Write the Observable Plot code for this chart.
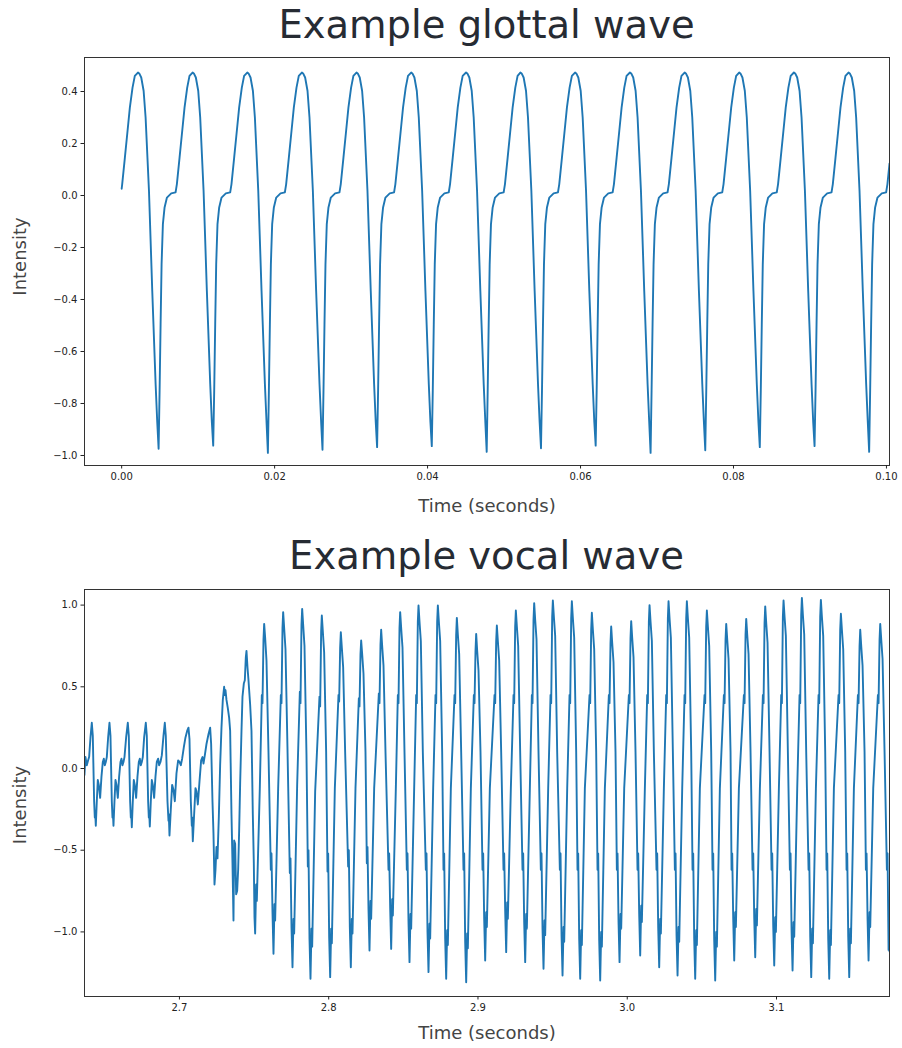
<!DOCTYPE html>
<html><head><meta charset="utf-8">
<script src="https://cdn.jsdelivr.net/npm/d3@7"></script>
<script src="https://cdn.jsdelivr.net/npm/@observablehq/plot@0.6"></script>
<style>
html,body{margin:0;padding:0;background:#fff;}
#fig{position:relative;width:902px;height:1048px;font-family:"DejaVu Sans",sans-serif;overflow:hidden;}
.title{position:absolute;left:84px;width:805px;text-align:center;font-size:38.5px;line-height:46px;color:#262b33;white-space:nowrap;}
.panel{position:absolute;left:0;}
</style></head>
<body>
<div id="fig">
  <div class="panel" id="p1" style="top:0px"></div>
  <div class="panel" id="p2" style="top:531px"></div>
  <div class="title" style="top:2px">Example glottal wave</div>
  <div class="title" style="top:533px">Example vocal wave</div>
</div>
<script>
// ---------- Data (time in milliseconds, intensity) ----------
const glottalTitle = "Example glottal wave";
const vocalTitle = "Example vocal wave";
const xLabel = "Time (seconds)";
const yLabel = "Intensity";

const glottalTicksX = [0, 0.02, 0.04, 0.06, 0.08, 0.10];
const glottalTicksY = [-1.0, -0.8, -0.6, -0.4, -0.2, 0.0, 0.2, 0.4];
const vocalTicksX = [2.7, 2.8, 2.9, 3.0, 3.1];
const vocalTicksY = [-1.0, -0.5, 0.0, 0.5, 1.0];

const glottalSamples = [
[0.00,0.026],[0.07,0.044],[0.42,0.146],[0.77,0.249],[1.07,0.338],[1.42,0.415],[1.72,0.460],
[2.13,0.473],[2.33,0.468],[2.56,0.454],[2.87,0.403],[3.13,0.300],[3.57,0.018],[4.00,-0.367],[4.44,-0.726],[4.65,-0.870],[4.83,-0.974],[4.96,-0.751],[5.09,-0.495],[5.22,-0.264],[5.39,-0.110],[5.61,-0.046],[5.92,-0.008],[6.48,0.008],[7.05,0.012],[7.22,0.044],[7.57,0.146],[7.92,0.249],[8.22,0.338],[8.57,0.415],[8.87,0.460],
[9.27,0.473],[9.47,0.468],[9.70,0.454],[10.01,0.403],[10.27,0.300],[10.71,0.018],[11.14,-0.367],[11.58,-0.726],[11.79,-0.870],[11.97,-0.962],[12.10,-0.751],[12.23,-0.495],[12.36,-0.264],[12.53,-0.110],[12.75,-0.046],[13.06,-0.008],[13.62,0.008],[14.19,0.012],[14.36,0.044],[14.71,0.146],[15.06,0.249],[15.36,0.338],[15.71,0.415],[16.01,0.460],
[16.42,0.473],[16.62,0.468],[16.85,0.454],[17.16,0.403],[17.42,0.300],[17.86,0.018],[18.29,-0.367],[18.73,-0.726],[18.94,-0.870],[19.12,-0.990],[19.25,-0.751],[19.38,-0.495],[19.51,-0.264],[19.68,-0.110],[19.90,-0.046],[20.21,-0.008],[20.77,0.008],[21.34,0.012],[21.51,0.044],[21.86,0.146],[22.21,0.249],[22.51,0.338],[22.86,0.415],[23.16,0.460],
[23.56,0.473],[23.76,0.468],[23.99,0.454],[24.30,0.403],[24.56,0.300],[25.00,0.018],[25.43,-0.367],[25.87,-0.726],[26.08,-0.870],[26.26,-0.978],[26.39,-0.751],[26.52,-0.495],[26.65,-0.264],[26.82,-0.110],[27.04,-0.046],[27.35,-0.008],[27.91,0.008],[28.48,0.012],[28.65,0.044],[29.00,0.146],[29.35,0.249],[29.65,0.338],[30.00,0.415],[30.30,0.460],
[30.70,0.473],[30.90,0.468],[31.13,0.454],[31.44,0.403],[31.70,0.300],[32.14,0.018],[32.57,-0.367],[33.01,-0.726],[33.22,-0.870],[33.40,-0.968],[33.53,-0.751],[33.66,-0.495],[33.79,-0.264],[33.96,-0.110],[34.18,-0.046],[34.49,-0.008],[35.05,0.008],[35.62,0.012],[35.79,0.044],[36.14,0.146],[36.49,0.249],[36.79,0.338],[37.14,0.415],[37.44,0.460],
[37.85,0.473],[38.05,0.468],[38.28,0.454],[38.59,0.403],[38.85,0.300],[39.29,0.018],[39.72,-0.367],[40.16,-0.726],[40.37,-0.870],[40.55,-0.964],[40.68,-0.751],[40.81,-0.495],[40.94,-0.264],[41.11,-0.110],[41.33,-0.046],[41.64,-0.008],[42.20,0.008],[42.77,0.012],[42.94,0.044],[43.29,0.146],[43.64,0.249],[43.94,0.338],[44.29,0.415],[44.59,0.460],
[45.03,0.473],[45.23,0.468],[45.46,0.454],[45.77,0.403],[46.03,0.300],[46.47,0.018],[46.90,-0.367],[47.34,-0.726],[47.55,-0.870],[47.73,-0.986],[47.86,-0.751],[47.99,-0.495],[48.12,-0.264],[48.29,-0.110],[48.51,-0.046],[48.82,-0.008],[49.38,0.008],[49.95,0.012],[50.12,0.044],[50.47,0.146],[50.82,0.249],[51.12,0.338],[51.47,0.415],[51.77,0.460],
[52.13,0.473],[52.33,0.468],[52.56,0.454],[52.87,0.403],[53.13,0.300],[53.57,0.018],[54.00,-0.367],[54.44,-0.726],[54.65,-0.870],[54.83,-0.972],[54.96,-0.751],[55.09,-0.495],[55.22,-0.264],[55.39,-0.110],[55.61,-0.046],[55.92,-0.008],[56.48,0.008],[57.05,0.012],[57.22,0.044],[57.57,0.146],[57.92,0.249],[58.22,0.338],[58.57,0.415],[58.87,0.460],
[59.28,0.473],[59.48,0.468],[59.71,0.454],[60.02,0.403],[60.28,0.300],[60.72,0.018],[61.15,-0.367],[61.59,-0.726],[61.80,-0.870],[61.98,-0.962],[62.11,-0.751],[62.24,-0.495],[62.37,-0.264],[62.54,-0.110],[62.76,-0.046],[63.07,-0.008],[63.63,0.008],[64.20,0.012],[64.37,0.044],[64.72,0.146],[65.07,0.249],[65.37,0.338],[65.72,0.415],[66.02,0.460],
[66.46,0.473],[66.66,0.468],[66.89,0.454],[67.20,0.403],[67.46,0.300],[67.90,0.018],[68.33,-0.367],[68.77,-0.726],[68.98,-0.870],[69.16,-0.990],[69.29,-0.751],[69.42,-0.495],[69.55,-0.264],[69.72,-0.110],[69.94,-0.046],[70.25,-0.008],[70.81,0.008],[71.38,0.012],[71.55,0.044],[71.90,0.146],[72.25,0.249],[72.55,0.338],[72.90,0.415],[73.20,0.460],
[73.61,0.473],[73.81,0.468],[74.04,0.454],[74.35,0.403],[74.61,0.300],[75.05,0.018],[75.48,-0.367],[75.92,-0.726],[76.13,-0.870],[76.31,-0.980],[76.44,-0.751],[76.57,-0.495],[76.70,-0.264],[76.87,-0.110],[77.09,-0.046],[77.40,-0.008],[77.96,0.008],[78.53,0.012],[78.70,0.044],[79.05,0.146],[79.40,0.249],[79.70,0.338],[80.05,0.415],[80.35,0.460],
[80.74,0.473],[80.94,0.468],[81.17,0.454],[81.48,0.403],[81.74,0.300],[82.18,0.018],[82.61,-0.367],[83.05,-0.726],[83.26,-0.870],[83.44,-0.968],[83.57,-0.751],[83.70,-0.495],[83.83,-0.264],[84.00,-0.110],[84.22,-0.046],[84.53,-0.008],[85.09,0.008],[85.66,0.012],[85.83,0.044],[86.18,0.146],[86.53,0.249],[86.83,0.338],[87.18,0.415],[87.48,0.460],
[87.90,0.473],[88.10,0.468],[88.33,0.454],[88.64,0.403],[88.90,0.300],[89.34,0.018],[89.77,-0.367],[90.21,-0.726],[90.42,-0.870],[90.60,-0.964],[90.73,-0.751],[90.86,-0.495],[90.99,-0.264],[91.16,-0.110],[91.38,-0.046],[91.69,-0.008],[92.25,0.008],[92.82,0.012],[92.99,0.044],[93.34,0.146],[93.69,0.249],[93.99,0.338],[94.34,0.415],[94.64,0.460],
[95.04,0.473],[95.24,0.468],[95.47,0.454],[95.78,0.403],[96.04,0.300],[96.48,0.018],[96.91,-0.367],[97.35,-0.726],[97.56,-0.870],[97.74,-0.986],[97.87,-0.751],[98.00,-0.495],[98.13,-0.264],[98.30,-0.110],[98.52,-0.046],[98.83,-0.008],[99.39,0.008],[99.96,0.012],[100.13,0.044],[100.40,0.123]
];

const vocalSamples = [
[2636.37,-0.04],[2637.05,0.07],[2637.94,0.02],[2638.83,0.05],[2639.50,0.07],[2640.40,0.19],
[2641.29,0.28],[2641.96,0.20],[2642.85,-0.20],[2643.30,-0.30],[2643.52,-0.26],[2643.97,-0.35],[2644.64,-0.20],[2645.31,-0.07],[2645.98,-0.10],[2646.87,-0.18],[2647.77,-0.05],[2648.66,0.04],[2649.33,0.06],[2650.00,0.02],[2650.67,0.04],[2651.34,0.07],[2652.23,0.19],
[2653.13,0.28],[2653.80,0.20],[2654.69,-0.20],[2655.14,-0.30],[2655.36,-0.26],[2655.81,-0.35],[2656.48,-0.20],[2657.15,-0.07],[2657.82,-0.10],[2658.71,-0.18],[2659.60,-0.05],[2660.50,0.04],[2661.17,0.06],[2661.84,0.02],[2662.51,0.04],[2663.18,0.07],[2664.29,0.19],
[2665.41,0.28],[2666.08,0.20],[2666.97,-0.20],[2667.42,-0.30],[2667.64,-0.26],[2668.09,-0.36],[2668.76,-0.20],[2669.43,-0.07],[2670.10,-0.10],[2670.99,-0.18],[2671.89,-0.05],[2672.78,0.04],[2673.45,0.06],[2674.12,0.02],[2674.79,0.04],[2675.46,0.07],[2676.35,0.19],
[2677.47,0.28],[2678.14,0.20],[2679.03,-0.20],[2679.48,-0.30],[2679.70,-0.26],[2680.15,-0.355],[2680.82,-0.20],[2681.49,-0.07],[2682.16,-0.10],[2683.05,-0.18],[2683.95,-0.05],[2684.84,0.04],[2685.73,0.06],[2686.40,0.02],[2687.30,0.04],[2688.19,0.08],[2689.31,0.20],
[2690.20,0.28],[2690.87,0.20],[2691.99,-0.20],[2692.66,-0.32],[2692.88,-0.28],[2693.33,-0.41],[2694.22,-0.25],[2695.11,-0.10],[2696.01,-0.13],[2696.90,-0.20],[2698.02,-0.03],[2699.13,0.05],[2700.03,0.04],[2700.92,0.02],[2701.81,0.06],[2702.93,0.13],[2704.05,0.19],[2705.16,0.23],
[2706.06,0.25],[2706.73,0.18],[2707.62,-0.20],[2708.29,-0.35],[2708.51,-0.30],[2708.96,-0.445],[2709.85,-0.28],[2710.75,-0.12],[2711.42,-0.14],[2712.31,-0.22],[2713.43,-0.08],[2714.54,0.05],[2715.44,0.07],[2716.11,0.03],[2717.00,0.08],[2718.12,0.15],[2719.46,0.21],
[2720.57,0.25],[2721.24,0.15],[2722.14,-0.20],[2722.81,-0.40],[2723.48,-0.71],[2724.15,-0.62],[2724.82,-0.48],[2725.49,-0.55],[2726.38,-0.30],[2727.27,0.02],[2728.17,0.25],[2729.06,0.42],
[2729.95,0.50],[2730.40,0.45],[2730.85,0.48],[2731.52,0.42],[2732.41,0.37],[2733.31,0.31],[2733.98,0.23],[2734.87,-0.28],[2735.54,-0.58],[2736.21,-0.93],[2736.66,-0.44],[2737.33,-0.46],[2738.00,-0.77],[2738.67,-0.75],[2739.34,-0.62],[2740.01,-0.38],[2740.68,-0.09],[2741.57,0.23],[2742.24,0.44],[2743.13,0.52],[2743.80,0.54],
[2744.47,0.68],[2744.92,0.72],[2745.59,0.62],[2746.26,0.54],[2747.38,0.39],[2748.27,0.23],[2749.16,-0.28],[2749.83,-0.58],[2750.28,-0.91],[2750.72,-1.01],[2751.39,-0.71],[2751.84,-0.81],[2753.85,-0.12],[2755.19,0.45],[2755.64,0.40],[2756.31,0.79],
[2756.76,0.885],[2757.43,0.80],[2758.32,0.66],[2759.66,0.10],[2761.22,-0.62],[2761.67,-0.52],[2762.34,-0.88],[2763.01,-1.134],[2763.68,-0.83],[2764.13,-0.93],[2766.14,-0.12],[2767.93,0.45],[2768.37,0.40],[2769.04,0.86],
[2769.49,0.957],[2770.16,0.86],[2771.05,0.73],[2772.39,0.12],[2773.95,-0.64],[2774.40,-0.55],[2775.07,-0.97],[2775.74,-1.216],[2776.41,-0.92],[2776.86,-1.01],[2778.87,-0.10],[2780.66,0.47],[2781.10,0.40],[2781.77,0.88],
[2782.22,0.977],[2782.89,0.88],[2783.78,0.75],[2785.12,0.08],[2786.01,-0.60],[2786.46,-0.50],[2787.13,-1.04],[2787.80,-1.287],[2788.47,-0.98],[2788.92,-1.09],[2790.93,-0.14],[2793.83,0.44],[2794.27,0.38],[2794.94,0.84],
[2795.39,0.936],[2796.06,0.84],[2796.95,0.71],[2798.29,0.10],[2799.19,-0.63],[2799.64,-0.52],[2800.31,-1.03],[2800.98,-1.277],[2801.65,-0.98],[2802.10,-1.07],[2804.11,-0.12],[2806.56,0.45],[2807.00,0.41],[2807.67,0.74],
[2808.12,0.834],[2808.79,0.74],[2809.68,0.62],[2811.02,0.10],[2813.03,-0.60],[2813.48,-0.50],[2814.15,-0.97],[2814.82,-1.216],[2815.49,-0.92],[2815.94,-1.01],[2817.95,-0.12],[2820.19,0.43],[2820.63,0.38],[2821.30,0.70],
[2821.75,0.783],[2822.42,0.70],[2823.31,0.58],[2824.65,0.10],[2825.54,-0.58],[2825.99,-0.48],[2826.66,-0.86],[2827.33,-1.114],[2828.00,-0.81],[2828.45,-0.92],[2830.46,-0.12],[2833.59,0.46],[2834.03,0.40],[2834.70,0.76],
[2835.15,0.849],[2835.82,0.75],[2836.71,0.63],[2838.05,0.10],[2840.06,-0.62],[2840.51,-0.52],[2841.18,-0.85],[2841.85,-1.104],[2842.52,-0.80],[2842.97,-0.90],[2844.98,-0.12],[2846.32,0.45],[2846.76,0.40],[2847.43,0.86],
[2847.88,0.957],[2848.55,0.86],[2849.44,0.74],[2850.78,0.10],[2852.34,-0.62],[2852.79,-0.52],[2853.46,-0.94],[2854.13,-1.185],[2854.80,-0.89],[2855.25,-0.98],[2857.26,-0.12],[2858.60,0.45],[2859.04,0.40],[2859.71,0.90],
[2860.16,0.998],[2860.83,0.90],[2861.72,0.78],[2863.06,0.10],[2865.07,-0.62],[2865.52,-0.52],[2866.19,-1.00],[2866.86,-1.246],[2867.53,-0.95],[2867.98,-1.04],[2869.99,-0.12],[2871.56,0.45],[2872.00,0.40],[2872.67,0.90],
[2873.12,0.998],[2873.79,0.90],[2874.68,0.78],[2876.02,0.10],[2876.91,-0.62],[2877.36,-0.52],[2878.03,-1.04],[2878.70,-1.287],[2879.37,-0.99],[2879.82,-1.08],[2881.83,-0.12],[2884.29,0.45],[2884.73,0.40],[2885.40,0.82],
[2885.85,0.922],[2886.52,0.82],[2887.41,0.70],[2888.75,0.10],[2890.31,-0.62],[2890.76,-0.52],[2891.43,-1.06],[2892.10,-1.308],[2892.77,-1.01],[2893.22,-1.10],[2895.23,-0.12],[2897.24,0.45],[2897.68,0.40],[2898.35,0.72],
[2898.80,0.824],[2899.47,0.72],[2900.36,0.60],[2901.70,0.10],[2903.04,-0.62],[2903.49,-0.52],[2904.16,-0.92],[2904.83,-1.175],[2905.50,-0.88],[2905.95,-0.97],[2907.96,-0.12],[2911.09,0.45],[2911.53,0.40],[2912.20,0.78],
[2912.65,0.875],[2913.32,0.78],[2914.21,0.66],[2915.55,0.10],[2917.11,-0.62],[2917.56,-0.52],[2918.23,-0.87],[2918.90,-1.124],[2919.57,-0.82],[2920.02,-0.92],[2922.03,-0.12],[2923.82,0.45],[2924.26,0.40],[2924.93,0.87],
[2925.38,0.967],[2926.05,0.87],[2926.94,0.75],[2928.28,0.10],[2929.84,-0.62],[2930.29,-0.52],[2930.96,-0.94],[2931.63,-1.185],[2932.30,-0.89],[2932.75,-0.98],[2934.76,-0.12],[2936.10,0.45],[2936.54,0.40],[2937.21,0.91],
[2937.66,1.012],[2938.33,0.91],[2939.22,0.79],[2940.56,0.10],[2942.12,-0.62],[2942.57,-0.52],[2943.24,-0.98],[2943.91,-1.226],[2944.58,-0.93],[2945.03,-1.02],[2947.04,-0.12],[2948.61,0.45],[2949.05,0.40],[2949.72,0.93],
[2950.17,1.028],[2950.84,0.93],[2951.73,0.81],[2953.07,0.10],[2954.86,-0.62],[2955.31,-0.52],[2955.98,-1.02],[2956.65,-1.267],[2957.32,-0.97],[2957.77,-1.06],[2959.78,-0.12],[2961.34,0.45],[2961.78,0.40],[2962.45,0.92],
[2962.90,1.024],[2963.57,0.92],[2964.46,0.80],[2965.80,0.10],[2966.69,-0.62],[2967.14,-0.52],[2967.81,-1.04],[2968.48,-1.287],[2969.15,-0.99],[2969.60,-1.08],[2971.61,-0.12],[2974.74,0.45],[2975.18,0.40],[2975.85,0.85],
[2976.30,0.953],[2976.97,0.85],[2977.86,0.73],[2979.20,0.10],[2980.09,-0.62],[2980.54,-0.52],[2981.21,-1.05],[2981.88,-1.297],[2982.55,-1.00],[2983.00,-1.09],[2985.01,-0.12],[2987.69,0.45],[2988.13,0.40],[2988.80,0.77],
[2989.25,0.869],[2989.92,0.77],[2990.81,0.65],[2992.15,0.10],[2993.05,-0.62],[2993.50,-0.52],[2994.17,-0.94],[2994.84,-1.185],[2995.51,-0.89],[2995.96,-0.98],[2997.97,-0.12],[3001.09,0.45],[3001.53,0.40],[3002.20,0.80],
[3002.65,0.902],[3003.32,0.80],[3004.21,0.68],[3005.55,0.10],[3006.89,-0.62],[3007.34,-0.52],[3008.01,-0.89],[3008.68,-1.144],[3009.35,-0.84],[3009.80,-0.94],[3011.81,-0.12],[3013.38,0.45],[3013.82,0.40],[3014.49,0.90],
[3014.94,1.000],[3015.61,0.90],[3016.50,0.78],[3017.84,0.10],[3019.62,-0.62],[3020.07,-0.52],[3020.74,-0.97],[3021.41,-1.216],[3022.08,-0.92],[3022.53,-1.01],[3024.54,-0.12],[3026.11,0.45],[3026.55,0.40],[3027.22,0.92],
[3027.67,1.024],[3028.34,0.92],[3029.23,0.80],[3030.57,0.10],[3031.91,-0.62],[3032.36,-0.52],[3033.03,-1.02],[3033.70,-1.267],[3034.37,-0.97],[3034.82,-1.06],[3036.83,-0.12],[3038.39,0.45],[3038.83,0.40],[3039.50,0.92],
[3039.95,1.024],[3040.62,0.92],[3041.51,0.80],[3042.85,0.10],[3043.74,-0.62],[3044.19,-0.52],[3044.86,-1.04],[3045.53,-1.287],[3046.20,-0.99],[3046.65,-1.08],[3048.66,-0.12],[3051.79,0.45],[3052.23,0.40],[3052.90,0.87],
[3053.35,0.967],[3054.02,0.87],[3054.91,0.75],[3056.25,0.10],[3057.14,-0.62],[3057.59,-0.52],[3058.26,-1.05],[3058.93,-1.297],[3059.60,-1.00],[3060.05,-1.09],[3062.06,-0.12],[3064.75,0.45],[3065.19,0.40],[3065.86,0.79],
[3066.31,0.885],[3066.98,0.79],[3067.87,0.67],[3069.21,0.10],[3069.88,-0.62],[3070.33,-0.52],[3071.00,-0.92],[3071.67,-1.175],[3072.34,-0.88],[3072.79,-0.97],[3074.80,-0.12],[3078.15,0.45],[3078.59,0.40],[3079.26,0.82],
[3079.71,0.916],[3080.38,0.82],[3081.27,0.70],[3082.61,0.10],[3083.95,-0.62],[3084.40,-0.52],[3085.07,-0.91],[3085.74,-1.155],[3086.41,-0.86],[3086.86,-0.96],[3088.87,-0.12],[3090.88,0.45],[3091.32,0.40],[3091.99,0.89],
[3092.44,0.992],[3093.11,0.89],[3094.00,0.77],[3095.34,0.10],[3096.68,-0.62],[3097.13,-0.52],[3097.80,-0.96],[3098.47,-1.206],[3099.14,-0.91],[3099.59,-1.00],[3101.60,-0.12],[3103.16,0.45],[3103.60,0.40],[3104.27,0.93],
[3104.72,1.028],[3105.39,0.93],[3106.28,0.81],[3107.62,0.10],[3108.96,-0.62],[3109.41,-0.52],[3110.08,-0.99],[3110.75,-1.236],[3111.42,-0.94],[3111.87,-1.03],[3113.88,-0.12],[3115.44,0.45],[3115.88,0.40],[3116.55,0.94],
[3117.00,1.044],[3117.67,0.94],[3118.56,0.82],[3119.90,0.10],[3121.47,-0.62],[3121.92,-0.52],[3122.59,-1.03],[3123.26,-1.277],[3123.93,-0.98],[3124.38,-1.07],[3126.39,-0.12],[3128.17,0.45],[3128.61,0.40],[3129.28,0.93],
[3129.73,1.032],[3130.40,0.93],[3131.29,0.81],[3132.63,0.10],[3133.53,-0.62],[3133.98,-0.52],[3134.65,-1.04],[3135.32,-1.287],[3135.99,-0.99],[3136.44,-1.08],[3138.45,-0.12],[3141.57,0.45],[3142.01,0.40],[3142.68,0.85],
[3143.13,0.947],[3143.80,0.85],[3144.69,0.73],[3146.03,0.10],[3146.93,-0.62],[3147.38,-0.52],[3148.05,-1.03],[3148.72,-1.277],[3149.39,-0.98],[3149.84,-1.07],[3151.85,-0.12],[3154.53,0.45],[3154.97,0.40],[3155.64,0.75],
[3156.09,0.849],[3156.76,0.75],[3157.65,0.63],[3158.99,0.10],[3159.88,-0.62],[3160.33,-0.52],[3161.00,-0.92],[3161.67,-1.175],[3162.34,-0.88],[3162.79,-0.97],[3164.80,-0.12],[3167.93,0.45],[3168.37,0.40],[3169.04,0.79],
[3169.49,0.885],[3170.16,0.79],[3171.05,0.67],[3172.39,0.10],[3173.95,-0.62],[3174.40,-0.52],[3175.07,-1.11],[3175.52,-0.81],[3175.74,-1.12]
];

// ---------- Build rows ----------
const toRows = samples => samples.map(([ms, v]) => ({t: ms / 1000, v}));
const glottalRows = toRows(glottalSamples);
const vocalRows = toRows(vocalSamples);

function panel({rows, xDomain, yDomain, xTicks, yTicks, xFmt, yFmt, height, marginTop, marginBottom, xLabelDy, yLabelDy}) {
  return Plot.plot({
    width: 902, height, marginTop, marginBottom, marginLeft: 84, marginRight: 13,
    style: {fontFamily: '"DejaVu Sans", sans-serif', fontSize: "10px", color: "#222", background: "transparent", overflow: "visible"},
    x: {domain: xDomain},
    y: {domain: yDomain},
    marks: [
      Plot.line(rows, {x: "t", y: "v", stroke: "#1f77b4", strokeWidth: 1.9, clip: true}),
      Plot.frame({stroke: "#333", strokeWidth: 1}),
      Plot.axisX({ticks: xTicks, tickFormat: xFmt, tickSize: 3.5, tickPadding: 3.5, label: null}),
      Plot.axisY({ticks: yTicks, tickFormat: yFmt, tickSize: 3.5, tickPadding: 3.5, label: null}),
      Plot.text([xLabel], {text: d => d, frameAnchor: "bottom", lineAnchor: "middle", textAnchor: "middle", dy: xLabelDy, fontSize: 18, fill: "#444"}),
      Plot.text([yLabel], {text: d => d, frameAnchor: "left", lineAnchor: "middle", textAnchor: "middle", dx: -64, dy: yLabelDy, rotate: -90, fontSize: 18, fill: "#444"})
    ]
  });
}

document.getElementById("p1").append(panel({
  rows: glottalRows,
  xDomain: [-0.00486, 0.1004], yDomain: [-1.0385, 0.5308],
  xTicks: glottalTicksX, yTicks: glottalTicksY,
  xFmt: d3.format(".2f"), yFmt: d3.format(".1f"),
  height: 523, marginTop: 57, marginBottom: 58, xLabelDy: 41, yLabelDy: -5
}));

document.getElementById("p2").append(panel({
  rows: vocalRows,
  xDomain: [2.6364, 3.1757], yDomain: [-1.3953, 1.0955],
  xTicks: vocalTicksX, yTicks: vocalTicksY,
  xFmt: d3.format(".1f"), yFmt: d3.format(".1f"),
  height: 517, marginTop: 58, marginBottom: 52, xLabelDy: 37, yLabelDy: 12
}));
</script>
</body></html>
